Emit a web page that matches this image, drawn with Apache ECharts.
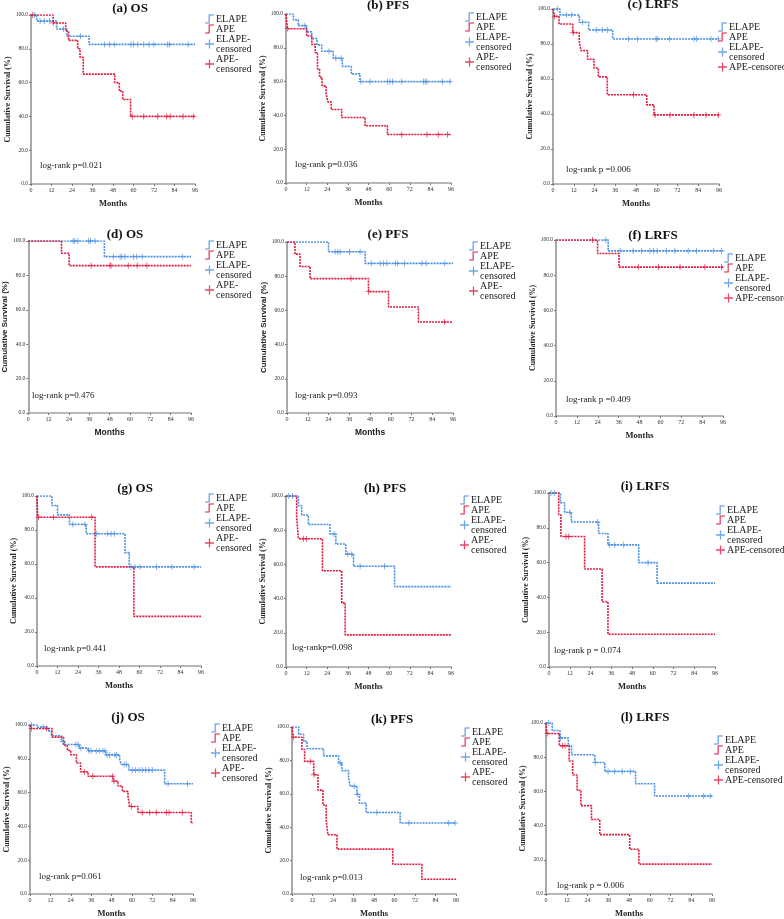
<!DOCTYPE html>
<html>
<head>
<meta charset="utf-8">
<script src="https://cdn.jsdelivr.net/npm/echarts@6/dist/echarts.min.js"></script>
<style>
  html, body { margin: 0; padding: 0; background: #fff; }
  #chart { width: 784px; height: 919px; }
</style>
</head>
<body>
<div id="chart"></div>
<script>
// step curves: [month, survival %] after each event; censored marks: months only
const aElape = [[0,100],[3.3,96.4],[15,91.7],[21,87.4],[34,82.6],[96,82.6]];
const aApe = [[0,100],[13,95.3],[20.3,90.5],[22,85],[27.3,80],[28.7,75],[30.6,65],[49,60],[51.7,55],[53.7,50],[58.3,40],[96,40]];
const aElapeCens = [2,5.3,7.8,11,19,29,43,46,49,58.5,60,62.5,66,69,72,80,81,92];
const aApeCens = [1,13,59.3,66,74,79.4,81.4,89,95];

const bElape = [[0,100],[4.3,96.5],[7.2,93.1],[12,89.4],[15,85.4],[18,81.6],[20.8,78],[27.5,73.8],[32.8,69],[38,64.6],[43,60],[96,60]];
const bApe = [[0,100],[0.8,91.3],[12,87],[15,82],[17,77.2],[18.3,67.5],[19.5,62.5],[21,57.5],[23.3,53],[24.3,48],[26.3,43.5],[32.4,38.8],[46,33.9],[59,28.7],[96,28.7]];
const bElapeCens = [11,25,29,32,43.6,48.9,59,60.5,62,67.3,80,81,82,91,95.4];
const bApeCens = [1,67.3,82,88.6,94];

const cElape = [[0,100],[4,96.6],[15.2,92.4],[20.6,88],[34.5,82.9],[96,82.9]];
const cApe = [[0,100],[0.8,95.8],[3.5,91.4],[11.4,86.5],[15.2,81.4],[16.2,76.2],[20,71.3],[23.7,66.3],[26.2,61.2],[31.4,51],[54.2,45.2],[58.4,39.5],[96,39.5]];
const cElapeCens = [2.5,7.9,10.8,17,25.3,28.7,31.4,43.6,48.8,59.6,60.3,67.3,81.5,83,91.4,95.6];
const cApeCens = [1,11.6,46.5,59,67.7,81.5,88.5,95.6];

const dElape = [[0,100],[44.9,90.9],[96,90.9]];
const dApe = [[0,100],[19.6,92.9],[24.1,85.7],[96,85.7]];
const dElapeCens = [26.4,27.4,29.3,35.6,36.7,39.4,50.3,54.2,55.2,57,62,64,67.2,91.1];
const dApeCens = [37.1,48.2,48.8,59,64.3,70];

const eElape = [[0,100],[24,94.3],[45.2,87.5],[96,87.5]];
const eApe = [[0,100],[4.6,92.9],[7.5,85.7],[13.3,78.6],[47.1,71],[58.7,62],[76,53.2],[96,53.2]];
const eElapeCens = [27.8,29.4,30.7,36.1,42.3,48.7,53.9,55.8,57.8,62.6,63.9,68,78,80.5,91.2];
const eApeCens = [37,47.2,91];

const fElape = [[0,100],[30,93.8],[96,93.8]];
const fApe = [[0,100],[23.9,92.3],[36.2,84.6],[96,84.6]];
const fElapeCens = [28.7,36.8,44.4,49.2,54,56,58.2,63.6,68.4,76,80.8,90.4,95.2];
const fApeCens = [21,47.3,58.8,71.3,85.6,95.2];

const gElape = [[0,100],[8.7,94.4],[12,88.9],[19,83.3],[28.8,77.8],[51.5,66.7],[54,58.3],[96,58.3]];
const gApe = [[0,100],[0.4,87.5],[34,58.3],[56.7,29.2],[96,29.2]];
const gElapeCens = [21,28.2,35,41.2,43.3,45.3,55,57.3,60.2,70,79,91.9];
const gApeCens = [1,9.7,32];

const hElape = [[0,100],[7.2,94.4],[9.1,88.9],[13,83.3],[25.6,77.8],[29,71.9],[34.8,66],[39.3,58.9],[63.2,47],[96,47]];
const hApe = [[0,100],[6.2,87.5],[7.2,75],[21.2,56.3],[32.4,37.5],[34.4,18.8],[96,18.8]];
const hElapeCens = [1.4,3.7,28,35.8,38.3,43.1,57.3];
const hApeCens = [10.1,12];

const iElape = [[0,100],[6.6,94.4],[9,88.9],[12.9,83.3],[28.7,76.7],[34.1,70.2],[51.9,60],[62.5,48.2],[96,48.2]];
const iApe = [[0,100],[5.6,87.5],[6.9,75],[20.6,56.3],[30.7,37.5],[34.1,18.8],[96,18.8]];
const iElapeCens = [1.2,3.3,12,28.1,35.1,38,43.2,57.3];
const iApeCens = [9.8,11.4];

const jElape = [[0,100],[4.3,98.8],[10.6,96.5],[12.6,93.6],[18.5,90.2],[20.4,88.5],[28.9,86.3],[34.2,84.7],[44.6,82.3],[52.8,79.6],[53.8,76.6],[58.3,73.3],[79.3,65.2],[96,65.2]];
const jApe = [[0,100],[0.4,97.9],[13,92.8],[19.8,87.9],[22,85],[24,82.4],[27.3,77.5],[29.8,72.3],[34.2,69.7],[48.9,66.8],[51.8,63.9],[54.4,60.7],[57.7,57.8],[58.7,51.8],[63.6,48.2],[95,42.2],[96,42.2]];
const jElapeCens = [0.8,7.7,19.4,27,28.3,30,34.7,36,39,41,43,44.2,45.4,47,50,51,55.4,56.7,60.3,62.2,64.2,66.1,68,70,72,81.3,92.7];
const jApeCens = [1,9.6,32,37,48.5,49.5,59.7,66.1,70.5,74.4,80.3,81.9,89.7];

const kElape = [[0,100],[3.9,95.7],[6.8,91.4],[8.8,87],[18.5,82.7],[27.3,78.4],[29.2,73.9],[33.1,69.4],[34.1,64.5],[38,59.6],[39.5,54.3],[43.4,48.8],[63.3,42.5],[96,42.5]];
const kApe = [[0,100],[0.6,93.9],[5.8,86.5],[7.4,79.4],[12.7,71.4],[15.2,62.2],[18.1,53.3],[20,44.5],[21,35.5],[26.3,26.9],[59,17.8],[76,8.8],[96,8.8]];
const kElapeCens = [28.2,36.4,38.4,49.7,68.5,91.5,95.4];
const kApeCens = [1,10.7,12.9];

const lElape = [[0,100],[3.6,95.6],[8.1,91.3],[12.9,86.7],[14.8,81.4],[28.2,76.9],[34,71.7],[51.8,64.5],[62.8,57.3],[96,57.3]];
const lApe = [[0,100],[0.4,93.9],[7.7,86.7],[13.4,77.8],[15.4,69.6],[18,60.7],[20.2,51.7],[26.3,43.6],[31.1,34.7],[48.4,26.2],[53.7,17.5],[96,17.5]];
const lElapeCens = [1.3,8.4,28.5,35.9,39.7,44.1,48.8,82.5,91.2,95];
const lApeCens = [1,9.6,11];

const titles = ['(a) OS','(b) PFS','(c) LRFS','(d) OS','(e) PFS','(f) LRFS','(g) OS','(h) PFS','(i) LRFS','(j) OS','(k) PFS','(l) LRFS'];
const pTexts = ['log-rank p=0.021','log-rank p=0.036','log-rank p =0.006','log-rank p=0.476','log-rank p=0.093','log-rank p =0.409',
  'log-rank p=0.441','log-rankp=0.098','log-rank p = 0.074','log-rank p=0.061','log-rank p=0.013','log-rank p = 0.006'];
const monthTicks = { min: 0, max: 96, interval: 12 };
const survTicks = { min: 0, max: 100, interval: 20 };

const curves = [
  [aElape, aApe, aElapeCens, aApeCens], [bElape, bApe, bElapeCens, bApeCens], [cElape, cApe, cElapeCens, cApeCens],
  [dElape, dApe, dElapeCens, dApeCens], [eElape, eApe, eElapeCens, eApeCens], [fElape, fApe, fElapeCens, fApeCens],
  [gElape, gApe, gElapeCens, gApeCens], [hElape, hApe, hElapeCens, hApeCens], [iElape, iApe, iElapeCens, iApeCens],
  [jElape, jApe, jElapeCens, jApeCens], [kElape, kApe, kElapeCens, kApeCens], [lElape, lApe, lElapeCens, lApeCens],
];

// layout per panel: plot box, title centre, p-text corner, legend corner
const layout = [
  { grid: [31, 15, 164, 169], title: [130, 9], p: [40, 161], legend: [205, 14], oneLine: false, sans: false },
  { grid: [286, 14, 165, 169], title: [388, 6], p: [295, 160], legend: [465, 12], oneLine: false, sans: false },
  { grid: [553, 9, 166, 175], title: [653, 5], p: [566, 165], legend: [718, 22], oneLine: true, sans: false },
  { grid: [26, 241, 165, 172], title: [125, 235], p: [32, 391], legend: [205, 240], oneLine: false, sans: true },
  { grid: [287, 242, 166, 171], title: [388, 235], p: [295, 391], legend: [469, 241], oneLine: false, sans: true },
  { grid: [556, 240, 167, 176], title: [653, 236], p: [566, 395], legend: [724, 253], oneLine: true, sans: false },
  { grid: [37, 496, 164, 170], title: [135, 489], p: [44, 644], legend: [205, 493], oneLine: false, sans: false },
  { grid: [286, 496, 165, 171], title: [385, 489], p: [292, 643], legend: [460, 495], oneLine: false, sans: false },
  { grid: [549, 493, 166, 174], title: [645, 487], p: [554, 646], legend: [716, 505], oneLine: true, sans: false },
  { grid: [30, 725, 163, 171], title: [128, 718], p: [39, 872], legend: [211, 723], oneLine: false, sans: false },
  { grid: [292, 727, 164, 170], title: [392, 720], p: [300, 873], legend: [461, 727], oneLine: false, sans: false },
  { grid: [546, 723, 166, 174], title: [645, 718], p: [557, 881], legend: [714, 735], oneLine: true, sans: false },
];

const elapeColor = '#4a90e2';
const apeColor = '#e2183d';
const serif = '"Liberation Serif", "Times New Roman", serif';
const sans = '"Liberation Sans", Arial, sans-serif';
const plusPath = 'path://M4.3,0H5.7V4.3H10V5.7H5.7V10H4.3V5.7H0V4.3H4.3Z';
const stepPath = 'path://M0,9H4V0H10V1.2H5.2V10.2H0Z';

// survival level in effect at time t
const survAt = (curve, t) => {
  let s = curve[0][1];
  for (const [ti, si] of curve) {
    if (ti <= t) s = si;
  }
  return s;
};

const grids = [], xAxes = [], yAxes = [], series = [], legends = [], graphics = [];

layout.forEach((L, i) => {
  const [elape, ape, elapeCens, apeCens] = curves[i];
  const axisFont = L.sans ? sans : serif;
  grids.push({ left: L.grid[0], top: L.grid[1], width: L.grid[2], height: L.grid[3] });
  xAxes.push({
    type: 'value', gridIndex: i, ...monthTicks,
    name: 'Months', nameLocation: 'middle', nameGap: 15,
    nameTextStyle: { fontFamily: axisFont, fontWeight: 'bold', fontSize: 8.5, color: '#222' },
    axisLine: { lineStyle: { color: '#a0a0a0', width: 1.5 } },
    axisTick: { length: 2, lineStyle: { color: '#777' } },
    axisLabel: { fontSize: 6, color: '#333', margin: 3, fontFamily: serif },
    splitLine: { show: false },
  });
  yAxes.push({
    type: 'value', gridIndex: i, ...survTicks,
    name: 'Cumulative Survival (%)', nameLocation: 'middle', nameGap: 19,
    nameTextStyle: { fontFamily: axisFont, fontWeight: 'bold', fontSize: 8, color: '#222' },
    axisLine: { show: true, lineStyle: { color: '#a0a0a0', width: 1.8 } },
    axisTick: { show: true, length: 2, lineStyle: { color: '#777' } },
    axisLabel: { fontSize: 5.5, color: '#333', margin: 3, fontFamily: serif, formatter: v => v.toFixed(1) },
    splitLine: { show: false },
  });
  [[elape, 'ELAPE', elapeColor], [ape, 'APE', apeColor]].forEach(([data, name, color]) => {
    series.push({
      type: 'line', name, step: 'end', data, xAxisIndex: i, yAxisIndex: i,
      symbol: 'none', showSymbol: false, silent: true,
      itemStyle: { color },
      lineStyle: { color, width: 1.6, type: [2, 1] },
      z: 2,
    });
  });
  [[elapeCens, elape, 'ELAPE-censored', elapeColor], [apeCens, ape, 'APE-censored', apeColor]].forEach(([ts, curve, name, color]) => {
    series.push({
      type: 'scatter', name, xAxisIndex: i, yAxisIndex: i,
      data: ts.map(t => [t, survAt(curve, t)]),
      symbol: plusPath, symbolSize: 6, silent: true,
      itemStyle: { color },
      z: 3,
    });
  });
  legends.push({
    orient: 'vertical', left: L.legend[0], top: L.legend[1],
    itemWidth: 9, itemHeight: 9, itemGap: 0, padding: 0, selectedMode: false,
    textStyle: { fontFamily: serif, fontSize: 10, lineHeight: 10, color: '#222', padding: [0, 0, 0, -3] },
    data: [
      { name: 'ELAPE', icon: stepPath },
      { name: 'APE', icon: stepPath },
      { name: 'ELAPE-censored', icon: plusPath },
      { name: 'APE-censored', icon: plusPath },
    ],
    formatter: name => {
      if (name === 'ELAPE-censored') return 'ELAPE-\ncensored';
      if (name === 'APE-censored') return L.oneLine ? 'APE-censored' : 'APE-\ncensored';
      return name;
    },
  });
  graphics.push({
    type: 'text', x: L.title[0], y: L.title[1],
    style: { text: titles[i], align: 'center', verticalAlign: 'middle', font: 'bold 13px ' + serif, fill: '#111' },
  });
  graphics.push({
    type: 'text', x: L.p[0], y: L.p[1],
    style: { text: pTexts[i], align: 'left', verticalAlign: 'top', font: '9px ' + serif, fill: '#222' },
  });
});

const chart = echarts.init(document.getElementById('chart'), null, { renderer: 'canvas' });
chart.setOption({
  animation: false,
  backgroundColor: '#fff',
  grid: grids,
  xAxis: xAxes,
  yAxis: yAxes,
  legend: legends,
  series,
  graphic: graphics,
});
</script>
</body>
</html>
